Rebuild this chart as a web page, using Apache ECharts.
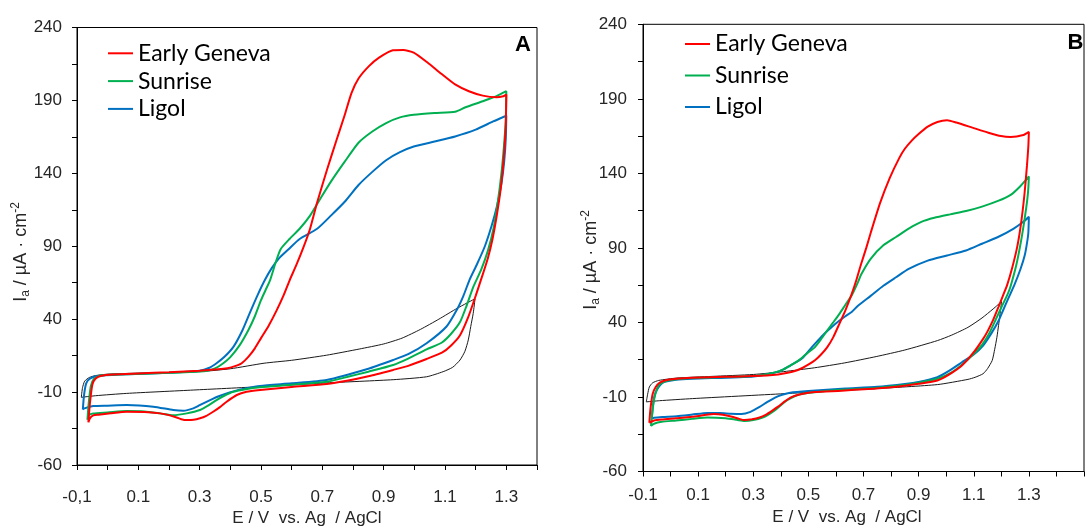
<!DOCTYPE html>
<html><head><meta charset="utf-8">
<script src="https://cdn.jsdelivr.net/npm/echarts@6/dist/echarts.min.js"></script>
<style>html,body{margin:0;padding:0;background:#fff}#c{width:1087px;height:526px}</style>
</head><body><div id="c"></div>
<script>
// ---------- DATA (E / V, I / µA·cm-2), each loop: forward scan then reverse scan ----------
const seriesNames = ['Early Geneva', 'Sunrise', 'Ligol'];
const yTickLabels = [-60, -10, 40, 90, 140, 190, 240];
const xTickValues = [-0.1, 0.1, 0.3, 0.5, 0.7, 0.9, 1.1, 1.3];
const xTickLabelsA = ['-0,1', '0.1', '0.3', '0.5', '0.7', '0.9', '1.1', '1.3'];
const xTickLabelsB = ['-0.1', '0.1', '0.3', '0.5', '0.7', '0.9', '1.1', '1.3'];
const xTitle = 'E / V  vs. Ag  / AgCl';
const yTitle = '{m|I}{s|a}{m| / µA · cm}{p|-2}';

// Panel A
const earlyGenevaA = [
  [-0.063,-30.8],[-0.058,-18],[-0.05,-5],[-0.04,-0.8],[-0.02,1.2],[0.02,2.0],[0.1,2.8],[0.2,3.6],[0.3,4.6],[0.36,5.6],[0.39,6.4],[0.415,7.8],[0.437,9.8],[0.46,14.5],[0.48,20],[0.5,27],[0.525,35.5],[0.551,46],[0.575,57],[0.594,67],[0.615,77],[0.638,89],[0.66,102],[0.683,120],[0.716,143],[0.745,162],[0.773,180],[0.795,195],[0.818,205],[0.852,213.5],[0.885,219.3],[0.93,224.4],[0.964,224.6],[0.998,222.8],[1.043,216],[1.088,208.3],[1.133,201],[1.178,196.3],[1.223,193.3],[1.268,192.2],[1.29,192.9],[1.3,194],
  [1.298,172],[1.292,152],[1.282,130],[1.268,110],[1.255,95],[1.24,82],[1.222,70],[1.2,56],[1.175,41],[1.149,29],[1.12,22],[1.09,17],[1.04,12.7],[0.98,8],[0.931,5.2],[0.85,0.8],[0.78,-2.3],[0.714,-4.5],[0.6,-6.5],[0.497,-8.6],[0.453,-9.8],[0.421,-12],[0.388,-16.6],[0.365,-20.5],[0.344,-23.5],[0.32,-26.5],[0.301,-28],[0.28,-29],[0.258,-29.2],[0.24,-28.6],[0.225,-27.4],[0.2,-25.8],[0.171,-24.6],[0.12,-23.6],[0.062,-23.5],[0.01,-24.5],[-0.03,-25.5],[-0.047,-26],[-0.058,-28],[-0.063,-30.8]
];
const sunriseA = [
  [-0.066,-29],[-0.062,-18],[-0.055,-6],[-0.045,-1],[-0.025,1.2],[0.03,2.0],[0.2,3.2],[0.32,4.4],[0.35,6.2],[0.377,9.8],[0.4,14],[0.43,22],[0.459,32.6],[0.48,42],[0.5,53],[0.515,60],[0.53,67],[0.548,79],[0.564,88],[0.593,95],[0.626,102],[0.66,111],[0.694,122.8],[0.728,134.3],[0.773,148],[0.818,161],[0.863,168.7],[0.908,174.5],[0.953,178.4],[0.998,180.2],[1.066,181.4],[1.133,182.2],[1.167,185.3],[1.223,189.4],[1.268,192.9],[1.3,196.3],
  [1.298,176],[1.292,158],[1.284,140],[1.272,120],[1.258,102],[1.24,87],[1.218,74],[1.192,62],[1.17,49],[1.149,38],[1.12,30],[1.09,24],[1.04,19.3],[0.98,13],[0.931,8.6],[0.85,4],[0.78,0.3],[0.714,-2.9],[0.6,-5],[0.497,-6.7],[0.45,-8],[0.41,-9.8],[0.38,-12.5],[0.355,-15.5],[0.33,-19],[0.301,-22.3],[0.258,-24.6],[0.214,-25.8],[0.171,-24.6],[0.12,-23.3],[0.062,-23],[0.0,-24],[-0.047,-24.7],[-0.062,-26],[-0.066,-29]
];
const ligolA = [
  [-0.081,-22],[-0.077,-12],[-0.07,-4],[-0.058,-0.8],[-0.035,1],[0.04,2.1],[0.2,3.2],[0.3,4.6],[0.33,6.5],[0.355,9.8],[0.38,14],[0.41,21],[0.44,32.6],[0.465,45],[0.49,57],[0.513,67],[0.535,75],[0.56,82],[0.59,88],[0.626,95],[0.683,102],[0.728,111],[0.773,120.5],[0.818,132],[0.863,141],[0.908,149],[0.953,154.5],[0.998,158.4],[1.066,161.8],[1.133,165.3],[1.2,170],[1.257,175.6],[1.3,179.5],
  [1.298,163],[1.293,148],[1.284,133],[1.27,118],[1.252,104],[1.23,90],[1.205,78],[1.18,67],[1.16,56],[1.14,47],[1.105,35],[1.04,23.5],[0.98,16],[0.931,12],[0.85,6],[0.714,-1.7],[0.6,-4],[0.497,-5.8],[0.453,-7.4],[0.41,-9.5],[0.388,-10.9],[0.36,-13],[0.334,-15.5],[0.3,-19],[0.279,-21.2],[0.247,-22.8],[0.214,-22.3],[0.149,-20],[0.062,-18.9],[0.0,-19.3],[-0.047,-19.6],[-0.076,-21.2],[-0.081,-22]
];
const blankA = [
  [-0.086,-13.6],[-0.082,-7],[-0.075,-2.5],[-0.06,0],[-0.04,1.3],[0.0,2.3],[0.1,3.0],[0.287,3.8],[0.4,6],[0.51,9.8],[0.6,11.8],[0.714,15.3],[0.82,19.5],[0.9,23],[0.96,27],[1.02,33],[1.08,40],[1.14,47.5],[1.198,54],
  [1.192,44],[1.184,35],[1.176,25.8],[1.165,18],[1.149,12],[1.125,7],[1.094,4],[1.04,0.5],[0.931,-1.5],[0.714,-3.7],[0.497,-6.3],[0.279,-8.6],[0.062,-10.9],[-0.04,-12.5],[-0.086,-13.6]
];

// Panel B
const earlyGenevaB = [
  [-0.077,-27.3],[-0.073,-18],[-0.065,-8],[-0.054,-3.3],[-0.04,-0.5],[-0.021,1.1],[0.02,2.2],[0.079,2.9],[0.2,3.5],[0.301,4],[0.39,5.1],[0.425,6.2],[0.457,7.8],[0.48,9.6],[0.501,11.8],[0.525,14.8],[0.546,18.5],[0.568,23.3],[0.59,30],[0.612,38.9],[0.635,48.5],[0.657,59],[0.675,69],[0.691,79],[0.71,90],[0.726,100],[0.76,120],[0.795,136.8],[0.83,150.4],[0.85,156.5],[0.875,162],[0.899,166.2],[0.933,171.3],[0.968,174.5],[1.003,175.7],[1.037,174.1],[1.095,170.7],[1.153,167.3],[1.199,165],[1.234,164.4],[1.28,165.7],[1.3,167.8],
  [1.298,158],[1.293,145],[1.284,126],[1.272,107],[1.258,91],[1.24,77],[1.221,65],[1.205,57.5],[1.19,50.5],[1.17,41.5],[1.15,34],[1.134,29],[1.1,20],[1.057,11.1],[1.01,5],[0.968,1.1],[0.9,-1.2],[0.85,-2.5],[0.746,-4.4],[0.62,-5.8],[0.523,-6.7],[0.49,-7.5],[0.457,-8.9],[0.435,-10.5],[0.412,-13.3],[0.39,-16.5],[0.368,-19.3],[0.345,-22],[0.323,-23.8],[0.295,-25],[0.268,-25.5],[0.245,-24.5],[0.223,-23.3],[0.19,-22],[0.157,-21.5],[0.079,-23.3],[0.02,-24.3],[-0.032,-25.1],[-0.06,-25.8],[-0.077,-27.3]
];
const sunriseB = [
  [-0.071,-29.5],[-0.066,-20],[-0.06,-12],[-0.05,-5],[-0.04,-1.5],[-0.01,1.1],[0.079,2.7],[0.301,4],[0.379,6.5],[0.41,8.5],[0.434,11.1],[0.457,13.5],[0.479,16.7],[0.5,20],[0.523,23.3],[0.545,28.5],[0.568,34.5],[0.59,40],[0.612,45.6],[0.635,52],[0.657,58],[0.68,67],[0.691,72],[0.726,82.7],[0.772,91.7],[0.818,97.3],[0.864,103],[0.91,107.5],[0.957,110.2],[1.014,112.5],[1.072,114.7],[1.13,117.7],[1.188,121.5],[1.234,125.6],[1.268,131.2],[1.3,138],
  [1.298,130],[1.294,122],[1.285,110],[1.272,95],[1.255,79],[1.234,64.5],[1.223,59],[1.2,50],[1.18,42],[1.157,33],[1.13,25],[1.1,19],[1.068,13.3],[1.02,6.5],[0.968,2.2],[0.9,-0.5],[0.85,-2],[0.746,-3.9],[0.6,-5.5],[0.479,-7.8],[0.45,-9.5],[0.423,-12.2],[0.4,-15.5],[0.379,-18.9],[0.355,-21.8],[0.334,-23.8],[0.3,-25.5],[0.268,-26.1],[0.24,-25.3],[0.2,-24.3],[0.134,-23.8],[0.079,-24.7],[0.02,-25.8],[-0.032,-26.7],[-0.06,-28],[-0.071,-29.5]
];
const ligolB = [
  [-0.068,-24.4],[-0.064,-16],[-0.058,-9],[-0.049,-5],[-0.035,-1.5],[-0.021,0.1],[0.02,1.5],[0.079,2.2],[0.301,3.8],[0.379,6.4],[0.41,8.5],[0.434,11.1],[0.457,13.5],[0.479,16.2],[0.512,23.3],[0.535,28],[0.557,32.3],[0.585,37],[0.612,41.1],[0.633,44],[0.657,47],[0.679,51],[0.726,57.8],[0.772,64.6],[0.818,70.3],[0.864,75.9],[0.933,81.5],[1.003,84.9],[1.072,88.3],[1.13,92.8],[1.188,97.3],[1.245,103],[1.28,107.5],[1.3,110.9],
  [1.298,100],[1.293,93],[1.285,85],[1.27,76],[1.246,64.5],[1.225,56],[1.205,47.5],[1.19,41.1],[1.165,33],[1.134,24.5],[1.1,18.5],[1.057,13.3],[1.01,7.5],[0.968,3.3],[0.9,0],[0.857,-1.1],[0.75,-3.2],[0.634,-4.4],[0.5,-6],[0.434,-7.1],[0.405,-8.5],[0.379,-10.4],[0.35,-13.5],[0.323,-16.7],[0.29,-20],[0.257,-21.5],[0.22,-21.3],[0.18,-20.8],[0.134,-20.7],[0.079,-21.8],[0.023,-22.9],[-0.03,-23.5],[-0.06,-24],[-0.068,-24.4]
];
const blankB = [
  [-0.088,-13.3],[-0.083,-8],[-0.077,-3.3],[-0.065,-0.5],[-0.043,1.1],[0.023,2.7],[0.15,3.8],[0.301,5.1],[0.41,7],[0.523,9.6],[0.63,12.8],[0.746,17.1],[0.85,21.5],[0.968,27.8],[1.02,31.5],[1.079,36.7],[1.13,43],[1.17,49],[1.201,54],
  [1.195,45],[1.19,38],[1.184,30],[1.176,22],[1.167,14.5],[1.15,9],[1.134,5.6],[1.105,3.2],[1.079,1.8],[0.968,-1.7],[0.746,-4.4],[0.412,-7.8],[0.079,-11.1],[-0.04,-12.5],[-0.088,-13.3]
];

// ---------- STYLE ----------
const colors = { 'Early Geneva': '#FF0000', 'Sunrise': '#00B050', 'Ligol': '#0070C0', 'Blank': '#1a1a1a' };
const font = 'Liberation Sans';
const labelColor = '#262626';

function xLabel(labels) {
  return function (v) {
    for (let i = 0; i < xTickValues.length; i++) {
      if (Math.abs(v - xTickValues[i]) < 1e-6) return labels[i];
    }
    return '';
  };
}
function yLabel(v) {
  const r = Math.round(v);
  return (Math.abs(v - r) < 1e-6 && yTickLabels.indexOf(r) >= 0) ? String(r) : '';
}
const lineBlack = { color: '#000', width: 1 };

function makeX(gridIndex, labels, max, margin) {
  return {
    type: 'value', gridIndex, min: -0.1, max, interval: 0.1,
    axisLine: { show: true, onZero: false, lineStyle: lineBlack },
    axisTick: { show: true, inside: false, length: 5, lineStyle: lineBlack },
    axisLabel: { margin, fontFamily: font, fontSize: 17, color: labelColor, formatter: xLabel(labels), showMinLabel: true, showMaxLabel: true },
    splitLine: { show: false }
  };
}
function makeY(gridIndex, margin) {
  return {
    type: 'value', gridIndex, min: -60, max: 240, interval: 25,
    axisLine: { show: true, onZero: false, lineStyle: lineBlack },
    axisTick: { show: true, inside: false, length: 5, lineStyle: lineBlack },
    axisLabel: { margin, fontFamily: font, fontSize: 17, color: labelColor, formatter: yLabel, showMinLabel: true, showMaxLabel: true },
    splitLine: { show: false }
  };
}
function makeSeries(name, data, idx, width) {
  return {
    type: 'line', name, data, xAxisIndex: idx, yAxisIndex: idx,
    showSymbol: false, symbol: 'none', smooth: 0.2, clip: true,
    color: colors[name],
    lineStyle: { color: colors[name], width },
    itemStyle: { color: colors[name] },
    emphasis: { disabled: true }, animation: false
  };
}
function makeLegend(left, top, gap) {
  return {
    data: seriesNames, left, top, orient: 'vertical', padding: 0, itemGap: gap,
    itemWidth: 25, itemHeight: 2, icon: 'rect', selectedMode: false,
    textStyle: { fontFamily: 'Lato', fontSize: 23, lineHeight: 24, color: '#000' }
  };
}
const yRich = {
  m: { fontFamily: font, fontSize: 18, lineHeight: 22, fill: labelColor, color: labelColor },
  s: { fontFamily: font, fontSize: 12, lineHeight: 12, verticalAlign: 'bottom', fill: labelColor, color: labelColor },
  p: { fontFamily: font, fontSize: 12, lineHeight: 12, verticalAlign: 'top', fill: labelColor, color: labelColor }
};
function yTitleEl(x, y) {
  return { type: 'text', x, y, rotation: Math.PI / 2,
    style: { text: yTitle, rich: yRich, fill: labelColor, align: 'center', verticalAlign: 'middle', font: '18px "Liberation Sans"' } };
}
function xTitleEl(x, y) {
  return { type: 'text', x, y,
    style: { text: xTitle, fill: labelColor, align: 'center', verticalAlign: 'middle', font: '17px "Liberation Sans"' } };
}

const option = {
  backgroundColor: '#fff',
  animation: false,
  grid: [
    { left: 77, top: 27.5, width: 460, height: 437.5, show: true, borderColor: '#000', borderWidth: 1, backgroundColor: 'transparent' },
    { left: 643, top: 24.3, width: 480, height: 447.2, show: true, borderColor: '#000', borderWidth: 1, backgroundColor: 'transparent' }
  ],
  xAxis: [ makeX(0, xTickLabelsA, 1.4, 24), makeX(1, xTickLabelsB, 1.5, 15) ],
  yAxis: [ makeY(0, 15), makeY(1, 16) ],
  legend: [ makeLegend(108, 41.3, 3.8), makeLegend(685, 32, 7.5) ],
  graphic: [
    { type: 'text', x: 523, y: 44.5, style: { text: 'A', font: 'bold 22px "Liberation Sans"', fill: '#000', align: 'center', verticalAlign: 'middle' } },
    { type: 'text', x: 1075.5, y: 42.5, style: { text: 'B', font: 'bold 22px "Liberation Sans"', fill: '#000', align: 'center', verticalAlign: 'middle' } },
    yTitleEl(21, 252),
    yTitleEl(591, 260),
    xTitleEl(307, 518),
    xTitleEl(847, 517)
  ],
  series: [
    makeSeries('Blank', blankA, 0, 1),
    makeSeries('Ligol', ligolA, 0, 2),
    makeSeries('Sunrise', sunriseA, 0, 2),
    makeSeries('Early Geneva', earlyGenevaA, 0, 2),
    makeSeries('Blank', blankB, 1, 1),
    makeSeries('Ligol', ligolB, 1, 2),
    makeSeries('Sunrise', sunriseB, 1, 2),
    makeSeries('Early Geneva', earlyGenevaB, 1, 2)
  ]
};
const chart = echarts.init(document.getElementById('c'), null, { renderer: 'canvas' });
chart.setOption(option);
</script></body></html>
